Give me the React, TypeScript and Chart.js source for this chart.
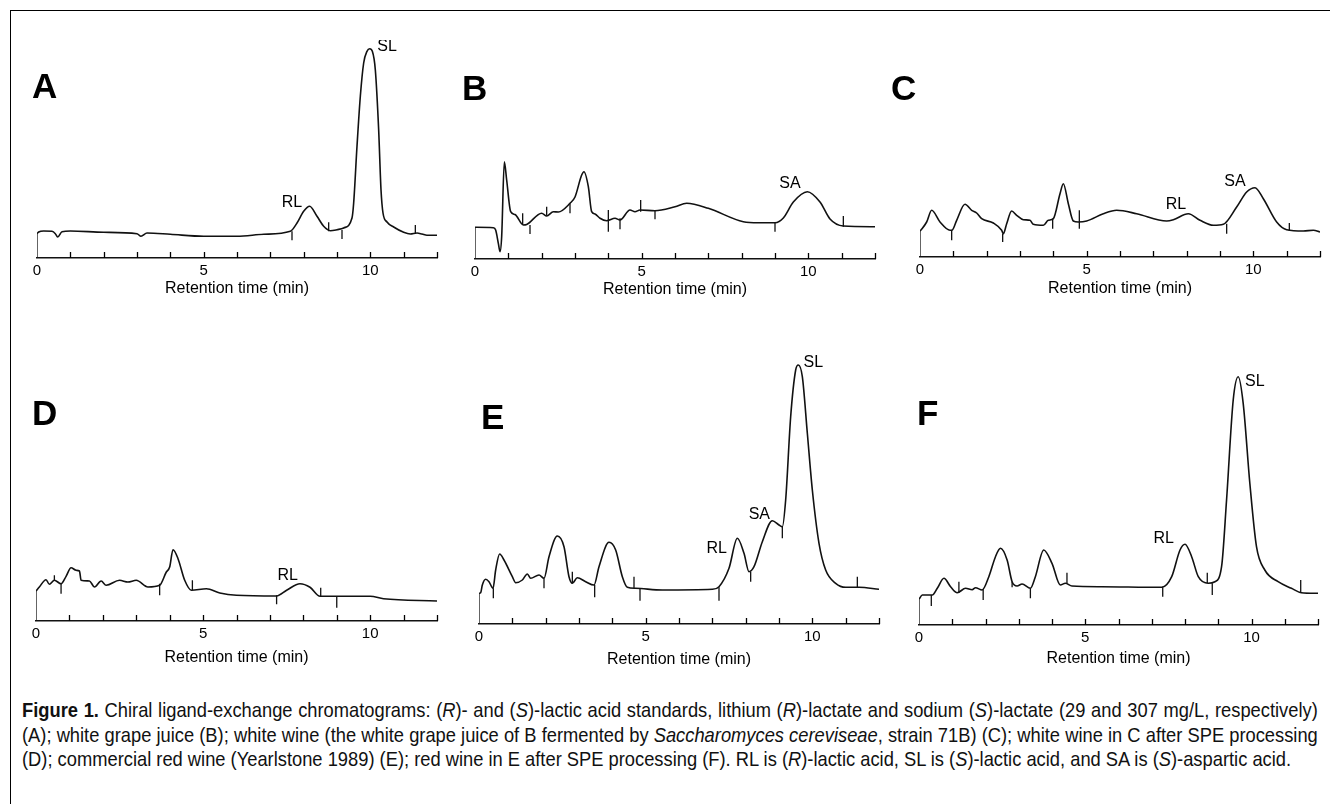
import React, { useEffect, useRef } from "react";
import { Chart, registerables } from "chart.js";

Chart.register(...registerables);

// ---------------- DATA ----------------
// Panel A: standards
const timeA = [0, 0.05, 0.2, 0.45, 0.55, 0.62, 0.75, 1.0, 2.0, 3.0, 3.12, 3.3, 4.0, 5.0, 6.0, 6.8, 7.6, 7.8, 8.0, 8.18, 8.4, 8.6, 8.8, 9.0, 9.2, 9.45, 9.5, 9.6, 9.7, 9.8, 9.9, 9.98, 10.06, 10.15, 10.25, 10.32, 10.38, 10.5, 10.7, 11.0, 11.2, 11.4, 11.55, 11.7, 12];
const respA = [24.3, 26, 27, 26.7, 24.3, 21, 26.3, 27, 25.7, 24.3, 21.7, 25, 23.7, 21.7, 21.7, 23.7, 26.7, 35, 46.7, 51.7, 41.7, 31.7, 27.3, 28.3, 30, 40, 55, 111.7, 161.7, 195, 206.7, 209.3, 206.7, 188, 128, 68.3, 45, 36, 31, 25.7, 24, 25, 24, 22.7, 22.7];
const markTimeA = [7.65, 8.75, 9.15, 11.35];
const markLowA = [17.7, 26.7, 19, 24];
const markHighA = [26.7, 35.7, 28, 33];
const peakTextA = ["RL", "SL"];
const peakTimeA = [7.65, 10.5];
const peakRespA = [55, 211];

// Panel B: white grape juice
const timeB = [0, 0.55, 0.62, 0.7, 0.75, 0.8, 0.88, 0.95, 1.07, 1.2, 1.45, 1.55, 2.0, 2.15, 2.35, 2.5, 2.85, 3.0, 3.2, 3.27, 3.4, 3.5, 3.6, 3.75, 3.95, 4.2, 4.35, 4.65, 4.8, 4.95, 5.4, 6.0, 6.35, 7.0, 8.05, 8.5, 9.0, 9.25, 9.55, 9.97, 10.35, 10.65, 11.05, 12];
const respB = [31.7, 31.3, 29, 15.7, 7.3, 22.3, 97.3, 79, 47.3, 44.5, 34, 34.5, 45.7, 43, 47.3, 47, 55.7, 62, 84, 87.3, 72.3, 47.3, 45, 40.7, 38.3, 40.7, 39, 49, 47.3, 49, 48.3, 52.3, 55.7, 50.7, 37.3, 36.3, 36.3, 41, 57, 67.3, 57, 40, 33, 32.3];
const markTimeB = [1.43, 1.65, 2.15, 2.85, 4.0, 4.35, 4.97, 5.4, 9.0, 11.05];
const markLowB = [34, 25, 43.3, 45.7, 27.3, 29.7, 47.3, 39.7, 27.3, 32.3];
const markHighB = [45.7, 34, 52.3, 55.7, 49, 40.7, 59, 49, 36.3, 43];
const peakTextB = ["SA"];
const peakTimeB = [9.45];
const peakRespB = [75];

// Panel C: white wine
const timeC = [0, 0.2, 0.35, 0.6, 0.9, 0.97, 1.1, 1.35, 1.55, 1.7, 1.85, 2.2, 2.45, 2.5, 2.6, 2.75, 2.9, 3.1, 3.3, 3.4, 3.7, 3.85, 4.0, 4.2, 4.3, 4.45, 4.6, 4.75, 5.0, 5.5, 5.9, 6.5, 7.4, 7.6, 8.05, 8.4, 8.8, 9.1, 9.5, 9.8, 10.05, 10.3, 10.7, 11.0, 11.5, 11.8, 12];
const respC = [25.7, 35, 46.7, 35, 26.7, 27, 36.7, 52.7, 46.7, 44, 38.3, 34, 26.7, 23.3, 33.3, 46, 41.7, 37.3, 36.7, 32.7, 31.7, 36.7, 38.3, 63.3, 73.3, 53.3, 36, 35, 36, 43.3, 46.7, 43.3, 36, 37.3, 43.3, 36.7, 31.7, 32.7, 50, 65, 69.3, 58.3, 35, 27.3, 26, 26.7, 25];
const markTimeC = [0.95, 2.48, 3.98, 4.78, 9.2, 11.08];
const markLowC = [16.7, 15, 28.3, 28.3, 23.3, 26];
const markHighC = [26.7, 23.3, 38.3, 46.7, 33.3, 34];
const peakTextC = ["RL", "SA"];
const peakTimeC = [7.68, 9.45];
const peakRespC = [52, 75];

// Panel D: white wine after SPE
const timeD = [0, 0.1, 0.3, 0.4, 0.55, 0.75, 0.9, 1.05, 1.2, 1.3, 1.35, 1.6, 1.75, 1.95, 2.1, 2.5, 2.75, 3.0, 3.35, 3.7, 3.9, 4.0, 4.1, 4.25, 4.45, 4.65, 5.1, 5.5, 6.0, 7.2, 7.5, 7.9, 8.2, 8.5, 10.0, 10.4, 12];
const respD = [30, 34, 41.3, 36.7, 40.7, 37.3, 44.7, 53.3, 50.7, 50, 40.7, 40, 34, 40, 35.7, 40.7, 39, 40.7, 34, 35.7, 49, 54, 71.3, 62.3, 40.7, 30.7, 32.3, 28, 25.7, 25, 30.7, 37.3, 33.7, 24.7, 24.7, 22.3, 20];
const markTimeD = [0.55, 0.75, 3.7, 4.68, 7.2, 8.52, 9.0];
const markLowD = [40.7, 27.3, 25.7, 30.7, 16.7, 24.7, 13.3];
const markHighD = [45.7, 37.3, 37.3, 40.7, 25.7, 33.3, 24.7];
const peakTextD = ["RL"];
const peakTimeD = [7.53];
const peakRespD = [45];

// Panel E: commercial red wine
const timeE = [0, 0.05, 0.1, 0.2, 0.3, 0.42, 0.5, 0.62, 0.75, 1.0, 1.1, 1.3, 1.45, 1.55, 1.8, 1.95, 2.1, 2.35, 2.55, 2.7, 2.8, 2.95, 3.2, 3.45, 3.6, 3.9, 4.1, 4.3, 4.45, 4.7, 5.5, 7.0, 7.2, 7.5, 7.75, 7.95, 8.1, 8.25, 8.5, 8.8, 9.0, 9.1, 9.2, 9.35, 9.5, 9.58, 9.7, 9.85, 10.0, 10.2, 10.4, 10.7, 11.0, 11.4, 12];
const respE = [30.7, 31.3, 39, 44.7, 42.3, 35.7, 54, 70, 64, 47.3, 41.3, 44, 50, 45.7, 49, 45.7, 67.3, 88, 77.3, 47.3, 40.7, 46.3, 42.3, 39, 57.3, 81.7, 74, 47.3, 36.7, 35.7, 34, 34.7, 37.3, 55.7, 85.7, 70.7, 52.3, 57.3, 82.3, 103.3, 99, 97.3, 124, 207.3, 254, 259, 247.3, 190.7, 134, 80.7, 54, 40.7, 36.7, 36.7, 34.7];
const markTimeE = [0.43, 1.95, 2.8, 3.47, 4.65, 4.83, 7.2, 8.15, 9.1, 11.35];
const markLowE = [25.7, 35.7, 40.7, 26.7, 35.7, 23.3, 23.3, 42.3, 85.7, 36.7];
const markHighE = [35.7, 45.7, 52.3, 39, 47.3, 35.7, 36.7, 52.3, 97.3, 47.3];
const peakTextE = ["RL", "SA", "SL"];
const peakTimeE = [7.13, 8.41, 10.03];
const peakRespE = [75, 109, 261];

// Panel F: red wine after SPE
const timeF = [0, 0.1, 0.4, 0.55, 0.75, 0.95, 1.15, 1.4, 1.6, 1.7, 1.9, 2.1, 2.3, 2.45, 2.65, 2.8, 2.95, 3.1, 3.35, 3.5, 3.75, 4.0, 4.25, 4.4, 4.6, 5.5, 7.3, 7.6, 7.85, 8.0, 8.2, 8.4, 8.7, 8.9, 9.1, 9.25, 9.45, 9.6, 9.75, 9.95, 10.15, 10.4, 10.8, 11.2, 11.5, 12];
const respF = [25.7, 30, 30, 36.7, 46.7, 38.3, 32.3, 36.7, 35.3, 37.3, 35, 48.3, 68.3, 76.7, 65, 43.3, 39, 41, 36.7, 48.3, 75, 61.7, 40, 41.7, 39, 38.3, 37.7, 48.3, 75, 80.7, 68.3, 48.3, 41.7, 43.3, 58.3, 125, 225, 248.3, 221.7, 141.7, 78.3, 55, 43.3, 36.7, 32.3, 31.7];
const markTimeF = [0.37, 1.2, 1.93, 2.8, 3.35, 4.45, 7.33, 8.67, 8.82, 11.48];
const markLowF = [19, 32.3, 25, 37.7, 26.7, 41.7, 28.3, 41.7, 30, 32.3];
const markHighF = [30, 43.3, 35.7, 43.3, 36.7, 52.3, 38.3, 52.3, 41.7, 45];
const peakTextF = ["RL", "SL"];
const peakTimeF = [7.36, 10.1];
const peakRespF = [86, 243];

const tickLabels = ["0", "5", "10"];
const axisTitle = "Retention time (min)";

const captionLines = [
  [
    { t: "Figure 1.", b: true },
    { t: " Chiral ligand-exchange chromatograms: (" },
    { t: "R", i: true },
    { t: ")- and (" },
    { t: "S", i: true },
    { t: ")-lactic acid standards, lithium (" },
    { t: "R", i: true },
    { t: ")-lactate and sodium (" },
    { t: "S", i: true },
    { t: ")-lactate (29 and 307 mg/L, respectively)" },
  ],
  [
    { t: "(A); white grape juice (B); white wine (the white grape juice of B fermented by " },
    { t: "Saccharomyces cereviseae", i: true },
    { t: ", strain 71B) (C); white wine in C after SPE processing" },
  ],
  [
    { t: "(D); commercial red wine (Yearlstone 1989) (E); red wine in E after SPE processing (F). RL is (" },
    { t: "R", i: true },
    { t: ")-lactic acid, SL is (" },
    { t: "S", i: true },
    { t: ")-lactic acid, and SA is (" },
    { t: "S", i: true },
    { t: ")-aspartic acid." },
  ],
];

// ---------------- LAYOUT ----------------
const PAD = 10;
const FONT = '"Liberation Sans", Arial, Helvetica, sans-serif';

type Panel = {
  letter: string;
  x0: number; x12: number; top: number; base: number; axisH: number;
  letterX: number; letterTop: number;
  time: number[]; resp: number[];
  mt: number[]; ml: number[]; mh: number[];
  pt: string[]; ptime: number[]; presp: number[];
};

const panels: Panel[] = [
  { letter: "A", x0: 37, x12: 437, top: 40, base: 258, axisH: 40, letterX: 32, letterTop: 68,
    time: timeA, resp: respA, mt: markTimeA, ml: markLowA, mh: markHighA, pt: peakTextA, ptime: peakTimeA, presp: peakRespA },
  { letter: "B", x0: 475, x12: 875, top: 40, base: 259, axisH: 40, letterX: 462, letterTop: 70,
    time: timeB, resp: respB, mt: markTimeB, ml: markLowB, mh: markHighB, pt: peakTextB, ptime: peakTimeB, presp: peakRespB },
  { letter: "C", x0: 920, x12: 1320, top: 40, base: 257, axisH: 41, letterX: 891, letterTop: 70,
    time: timeC, resp: respC, mt: markTimeC, ml: markLowC, mh: markHighC, pt: peakTextC, ptime: peakTimeC, presp: peakRespC },
  { letter: "D", x0: 36, x12: 437, top: 345, base: 621, axisH: 46, letterX: 32, letterTop: 395,
    time: timeD, resp: respD, mt: markTimeD, ml: markLowD, mh: markHighD, pt: peakTextD, ptime: peakTimeD, presp: peakRespD },
  { letter: "E", x0: 479, x12: 879, top: 345, base: 624, axisH: 45, letterX: 481, letterTop: 399,
    time: timeE, resp: respE, mt: markTimeE, ml: markLowE, mh: markHighE, pt: peakTextE, ptime: peakTimeE, presp: peakRespE },
  { letter: "F", x0: 919, x12: 1318, top: 345, base: 625, axisH: 43, letterX: 917, letterTop: 395,
    time: timeF, resp: respF, mt: markTimeF, ml: markLowF, mh: markHighF, pt: peakTextF, ptime: peakTimeF, presp: peakRespF },
];

// ticks pointing up into the plot
const innerTicks = {
  id: "innerTicks",
  afterDraw(chart: any) {
    const x = chart.scales.x;
    const ctx = chart.ctx;
    const bottom = chart.chartArea.bottom;
    ctx.save();
    ctx.strokeStyle = "#000";
    ctx.lineWidth = 1.3;
    ctx.beginPath();
    for (const tk of x.ticks) {
      if (tk.value === 0) continue;
      const px = Math.round(x.getPixelForValue(tk.value)) + 0.5;
      ctx.moveTo(px, bottom);
      ctx.lineTo(px, bottom - 6);
    }
    ctx.stroke();
    ctx.restore();
  },
};

const peakLabels = {
  id: "peakLabels",
  afterDatasetsDraw(chart: any, _a: any, opts: any) {
    const x = chart.scales.x;
    const y = chart.scales.y;
    const ctx = chart.ctx;
    ctx.save();
    ctx.fillStyle = "#000";
    ctx.font = `16px ${FONT}`;
    ctx.textAlign = "center";
    ctx.textBaseline = "middle";
    (opts.texts || []).forEach((t: string, i: number) => {
      ctx.fillText(t, x.getPixelForValue(opts.times[i]), y.getPixelForValue(opts.resps[i]));
    });
    ctx.restore();
  },
};

function PanelChart({ p }: { p: Panel }) {
  const ref = useRef<HTMLCanvasElement>(null);
  const W = p.x12 - p.x0 + PAD * 2;
  const H = p.base - p.top + p.axisH;
  useEffect(() => {
    if (!ref.current) return;
    const trace = p.time.map((t, i) => ({ x: t, y: p.resp[i] }));
    const segs: any[] = [{ x: 0, y: 0 }, { x: 0, y: p.resp[0] }, { x: 0, y: null }];
    p.mt.forEach((t, i) => {
      segs.push({ x: t, y: p.ml[i] }, { x: t, y: p.mh[i] }, { x: t, y: null });
    });
    const chart = new Chart(ref.current, {
      type: "line",
      data: {
        datasets: [
          {
            data: trace,
            borderColor: "#111",
            borderWidth: 1.6,
            pointRadius: 0,
            cubicInterpolationMode: "monotone",
            fill: false,
          },
          {
            data: segs,
            borderColor: "#111",
            borderWidth: 1.3,
            pointRadius: 0,
            tension: 0,
            spanGaps: false,
            fill: false,
          },
        ],
      } as any,
      options: {
        animation: false,
        responsive: false,
        maintainAspectRatio: false,
        events: [],
        layout: { padding: { left: PAD, right: PAD, top: 0, bottom: 0 } },
        plugins: {
          legend: { display: false },
          tooltip: { enabled: false },
          peakLabels: { texts: p.pt, times: p.ptime, resps: p.presp },
        } as any,
        scales: {
          x: {
            type: "linear",
            min: 0,
            max: 12,
            grid: { display: false, drawTicks: false, tickLength: 0 },
            border: { display: true, color: "#111", width: 1.5 },
            ticks: {
              stepSize: 1,
              autoSkip: false,
              maxRotation: 0,
              padding: 4,
              color: "#000",
              font: { family: FONT, size: 15 },
              callback: (v: any) => (tickLabels.includes(String(v)) ? String(v) : ""),
            },
            title: {
              display: true,
              text: axisTitle,
              color: "#000",
              font: { family: FONT, size: 16 },
              padding: 0,
            },
            afterFit: (s: any) => {
              s.height = p.axisH;
            },
          } as any,
          y: { display: false, min: 0, max: p.base - p.top },
        },
      },
      plugins: [innerTicks, peakLabels],
    });
    return () => chart.destroy();
  }, []);
  return (
    <>
      <canvas
        ref={ref}
        width={W}
        height={H}
        style={{ position: "absolute", left: p.x0 - PAD, top: p.top, width: W, height: H }}
      />
      <div
        style={{
          position: "absolute",
          left: p.letterX,
          top: p.letterTop,
          font: `bold 35px/35px ${FONT}`,
          color: "#000",
        }}
      >
        {p.letter}
      </div>
    </>
  );
}

const CAP_SCALE = 0.872;

export default function App() {
  return (
    <div style={{ position: "fixed", left: 0, top: 0, width: 1330, height: 804, overflow: "hidden", background: "#fff" }}>
      <div
        style={{
          position: "absolute",
          left: 10,
          top: 10,
          width: 1360,
          height: 840,
          border: "1.5px solid #000",
          boxSizing: "border-box",
        }}
      />
      {panels.map((p) => (
        <PanelChart key={p.letter} p={p} />
      ))}
      {captionLines.map((line, li) => (
        <div
          key={li}
          style={{
            position: "absolute",
            left: 22,
            top: 698 + li * 24.5,
            width: Math.round(1296 / CAP_SCALE),
            transform: `scaleX(${CAP_SCALE})`,
            transformOrigin: "0 0",
            whiteSpace: "nowrap",
            font: `21px/24px ${FONT}`,
            color: "#111",
            textAlign: li < 2 ? "justify" : "left",
            textAlignLast: li < 2 ? "justify" : "left",
          } as any}
        >
          {line.map((s: any, i: number) =>
            s.b ? <b key={i}>{s.t}</b> : s.i ? <i key={i}>{s.t}</i> : <span key={i}>{s.t}</span>
          )}
        </div>
      ))}
    </div>
  );
}
